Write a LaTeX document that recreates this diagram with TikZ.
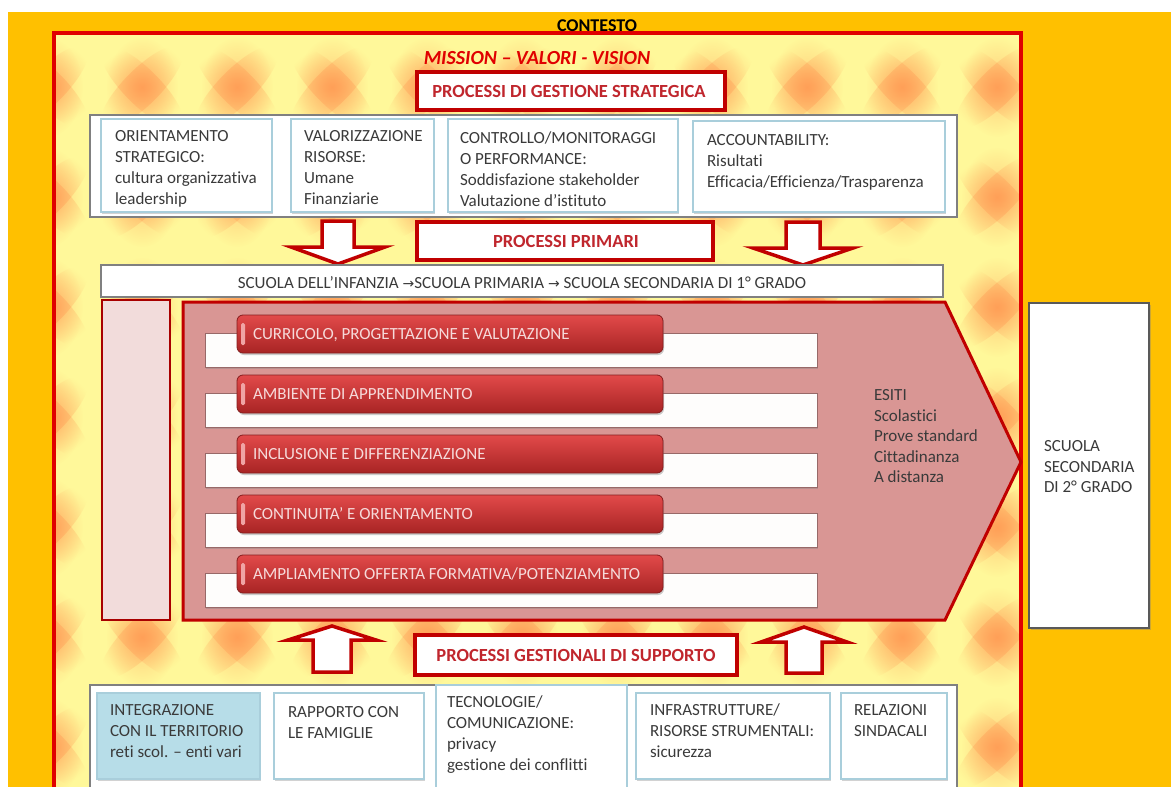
\documentclass[tikz,border=0pt]{standalone}
\usepackage{fontspec}
\setmainfont{Carlito}[Ligatures={NoCommon}]
\newfontfamily\djv{DejaVu Sans}
\usetikzlibrary{shadows,fadings}
\definecolor{bgorange}{HTML}{FFC000}
\definecolor{paley}{HTML}{FFF89A}
\definecolor{bloborange}{HTML}{FF9550}
\definecolor{framered}{HTML}{E00000}
\definecolor{darkred}{HTML}{C00000}
\definecolor{titletxt}{HTML}{C0262D}
\definecolor{chevfill}{HTML}{D99694}
\definecolor{palepink}{HTML}{F2DCDB}
\definecolor{bodytxt}{HTML}{3A3A3A}
\definecolor{boxblue}{HTML}{A9CEDB}
\definecolor{integr}{HTML}{B7DDE8}
\definecolor{redtop}{HTML}{E24A4A}
\definecolor{redbot}{HTML}{A82424}
\definecolor{redtxt}{HTML}{F6DADA}
\definecolor{contgray}{HTML}{808080}
\tikzfading[name=softblob, inner color=transparent!0, outer color=transparent!100]
\newcommand\fbody{\fontsize{17}{21}\selectfont}
\newcommand\ftitle{\fontsize{18.5}{21}\selectfont\bfseries}
\newcommand\fbar{\fontsize{17}{19}\selectfont}
\newcommand\mylines[1]{\parbox[t]{330pt}{\fbody\raggedright #1}}
\begin{document}
\begin{tikzpicture}[x=1pt,y=-1pt,
  every node/.style={inner sep=0pt, outer sep=0pt, text=bodytxt},
  txt/.style={anchor=base west},
  wbox/.style={draw=boxblue, line width=2pt, fill=white, anchor=north west,
    drop shadow={shadow xshift=1pt, shadow yshift=-1.5pt, opacity=0.35}},
  bluebox/.style={wbox, fill=integr},
  container/.style={draw=contgray, line width=1.5pt, fill=white, anchor=north west},
  titlebox/.style={draw=darkred, line width=3.5pt, fill=white, anchor=north west,
    drop shadow={shadow xshift=1.5pt, shadow yshift=-1.5pt, opacity=0.3}},
  titletext/.style={anchor=base, font=\ftitle, text=titletxt},
  blockarrow/.style={draw=darkred, line width=3.5pt, fill=white, line join=miter},
  redbar/.style={rounded corners=6pt, top color=redtop, bottom color=redbot, draw=redbot!80!black,
    line width=0.8pt, anchor=north west, minimum width=426pt, minimum height=38pt,
    drop shadow={shadow xshift=1pt, shadow yshift=-2pt, opacity=0.4}},
  wbar/.style={fill=white!93!palepink, draw=chevfill!70!black, line width=0.8pt, anchor=north west,
    minimum width=612pt, minimum height=34pt,
    drop shadow={shadow xshift=1pt, shadow yshift=-2pt, opacity=0.35}},
  hilite/.style={fill=redtop!50!white, rounded corners=1.5pt, anchor=north west, minimum width=4pt, minimum height=22pt},
  bartext/.style={anchor=base west, font=\fbar, text=redtxt},
  starray/.style={fill=bloborange, path fading=softblob}
]
\useasboundingbox (0,0) rectangle (1171,787);
\fill[white] (0,0) rectangle (1171,787);
\fill[bgorange] (8,12) rectangle (1171,787);
% inner frame background
\fill[paley] (54,33) rectangle (1021,800);
\begin{scope}
  \clip (54,33) rectangle (1021,800);
  \foreach \i in {-1,...,9}{
    \foreach \j in {0,...,7}{
      \pgfmathsetmacro{\cx}{142+95*\i}
      \pgfmathsetmacro{\cy}{87+110*\j}
      \fill[starray, fill opacity=0.55, rotate around={45:(\cx,\cy)}] (\cx,\cy) ellipse [x radius=56, y radius=18];
      \fill[starray, fill opacity=0.55, rotate around={-45:(\cx,\cy)}] (\cx,\cy) ellipse [x radius=56, y radius=18];
      \fill[starray, fill opacity=0.45] (\cx,\cy) ellipse [x radius=36, y radius=50];
    }
  }
\end{scope}
\draw[framered, line width=4pt] (54,33) rectangle (1021,812);

\node[anchor=base, font=\fontsize{18}{20}\selectfont\bfseries, text=black] (contesto) at (597,31) {CONTESTO};
\node[anchor=base, font=\fontsize{20}{22}\selectfont\bfseries\itshape, text=framered] (mission) at (537,64.5) {MISSION – VALORI - VISION};

% strategic processes
\node[titlebox, minimum width=308pt, minimum height=38pt] (pgs) at (417,72) {};
\node[titletext] (pgs-t) at (569,97) {PROCESSI DI GESTIONE STRATEGICA};

\node[container, minimum width=867pt, minimum height=102pt] (topc) at (90,115) {};
\node[wbox, minimum width=171pt, minimum height=93pt] (b1) at (101,119) {};
\node[wbox, minimum width=143pt, minimum height=93pt] (b2) at (291,119) {};
\node[wbox, minimum width=230pt, minimum height=93pt] (b3) at (448,119) {};
\node[wbox, minimum width=252pt, minimum height=91pt] (b4) at (693,121) {};
\node[txt] (b1t) at (115,141.5) {\mylines{ORIENTAMENTO\\STRATEGICO:\\cultura organizzativa\\leadership}};
\node[txt] (b2t) at (304,141.5) {\mylines{VALORIZZAZIONE\\RISORSE:\\Umane\\Finanziarie}};
\node[txt] (b3t) at (460,143.5) {\mylines{CONTROLLO/MONITORAGGI\\O PERFORMANCE:\\Soddisfazione stakeholder\\Valutazione d’istituto}};
\node[txt] (b4t) at (707,145.5) {\mylines{ACCOUNTABILITY:\\Risultati\\Efficacia/Efficienza/Trasparenza}};

% down arrows
\draw[blockarrow] (322,221) -- (354,221) -- (354,247) -- (385,247) -- (338,264) -- (291,247) -- (322,247) -- cycle;
\draw[blockarrow] (786,222) -- (820,222) -- (820,248) -- (853,248) -- (803,265) -- (753,248) -- (786,248) -- cycle;

\node[titlebox, minimum width=296pt, minimum height=38pt] (pp) at (417,222) {};
\node[titletext] (pp-t) at (566,247) {PROCESSI PRIMARI};

% school strip
\node[container, minimum width=842pt, minimum height=32pt] (strip) at (101,265) {};
\node[anchor=base, font=\fontsize{17}{19}\selectfont] (strip-t) at (522,288.5) {SCUOLA DELL’INFANZIA {\djv\fontsize{14}{14}\selectfont→}SCUOLA PRIMARIA {\djv\fontsize{14}{14}\selectfont→} SCUOLA SECONDARIA DI 1° GRADO};

% left pale box and chevron
\node[draw=framered!75!black, line width=2.5pt, fill=palepink, anchor=north west, minimum width=68pt, minimum height=320pt] (lbox) at (102,300) {};
\draw[draw=darkred, line width=3pt, fill=chevfill, line join=miter] (183,302) -- (945,302) -- (1021,462) -- (945,620) -- (183,620) -- cycle;

% rows
\foreach \k/\lab in {0/{CURRICOLO, PROGETTAZIONE E VALUTAZIONE},1/{AMBIENTE DI APPRENDIMENTO},2/{INCLUSIONE E DIFFERENZIAZIONE},3/{CONTINUITA’ E ORIENTAMENTO},4/{AMPLIAMENTO OFFERTA FORMATIVA/POTENZIAMENTO}}{
  \pgfmathsetmacro{\yy}{315+60*\k}
  \node[wbar] (w\k) at (205,\yy+18) {};
  \node[redbar] (r\k) at (237,\yy) {};
  \node[hilite] (h\k) at (241,\yy+8) {};
  \node[bartext] (rt\k) at (253,\yy+24) {\lab};
}

\node[txt] (esiti) at (874,400.5) {\parbox[t]{140pt}{\fontsize{17}{20.5}\selectfont\raggedright ESITI\\Scolastici\\Prove standard\\Cittadinanza\\A distanza}};

% right box
\node[draw=black!65, line width=2pt, fill=white, anchor=north west, minimum width=120pt, minimum height=325pt,
  drop shadow={shadow xshift=1.5pt, shadow yshift=-2pt, opacity=0.4}] (ss2) at (1029,303) {};
\node[txt] (ss2t) at (1044,451.5) {\parbox[t]{110pt}{\fontsize{17}{20.5}\selectfont\raggedright SCUOLA\\SECONDARIA\\DI 2° GRADO}};

% up arrows
\draw[blockarrow] (313,672) -- (351,672) -- (351,640) -- (376,640) -- (332,626) -- (288,640) -- (313,640) -- cycle;
\draw[blockarrow] (786,673) -- (822,673) -- (822,642) -- (847,642) -- (804,627) -- (761,642) -- (786,642) -- cycle;

\node[titlebox, minimum width=322pt, minimum height=40pt] (pgsup) at (415,635) {};
\node[titletext] (pgsup-t) at (576,661) {PROCESSI GESTIONALI DI SUPPORTO};

% bottom boxes
\node[container, minimum width=867pt, minimum height=120pt] (botc) at (90,685) {};
\node[bluebox, minimum width=163pt, minimum height=86pt] (c1) at (97,693) {};
\node[wbox, minimum width=150pt, minimum height=86pt] (c2) at (274,693) {};
\node[wbox, minimum width=191pt, minimum height=110pt] (c3) at (436,685) {};
\node[wbox, minimum width=194pt, minimum height=86pt] (c4) at (636,693) {};
\node[wbox, minimum width=106pt, minimum height=86pt] (c5) at (841,693) {};
\node[txt] (c1t) at (110,715.5) {\mylines{INTEGRAZIONE\\CON IL TERRITORIO\\reti scol. – enti vari}};
\node[txt] (c2t) at (288,717.5) {\mylines{RAPPORTO CON\\LE FAMIGLIE}};
\node[txt] (c3t) at (447,707.5) {\mylines{TECNOLOGIE/\\COMUNICAZIONE:\\privacy\\gestione dei conflitti}};
\node[txt] (c4t) at (650,715.5) {\mylines{INFRASTRUTTURE/\\RISORSE STRUMENTALI:\\sicurezza}};
\node[txt] (c5t) at (854,715.5) {\mylines{RELAZIONI\\SINDACALI}};
\end{tikzpicture}
\end{document}
